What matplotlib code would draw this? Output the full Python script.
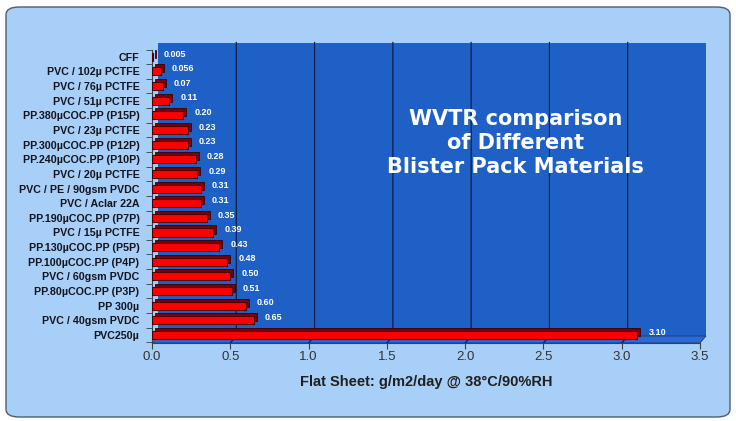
import numpy as np
import matplotlib.pyplot as plt
from matplotlib.patches import Rectangle, Polygon, FancyBboxPatch
from matplotlib.transforms import ScaledTranslation

plt.rcParams['font.family'] = ['Liberation Sans', 'DejaVu Sans']

materials = ['CFF', 'PVC / 102µ PCTFE', 'PVC / 76µ PCTFE', 'PVC / 51µ PCTFE',
             'PP.380µCOC.PP (P15P)', 'PVC / 23µ PCTFE', 'PP.300µCOC.PP (P12P)',
             'PP.240µCOC.PP (P10P)', 'PVC / 20µ PCTFE', 'PVC / PE / 90gsm PVDC',
             'PVC / Aclar 22A', 'PP.190µCOC.PP (P7P)', 'PVC / 15µ PCTFE',
             'PP.130µCOC.PP (P5P)', 'PP.100µCOC.PP (P4P)', 'PVC / 60gsm PVDC',
             'PP.80µCOC.PP (P3P)', 'PP 300µ', 'PVC / 40gsm PVDC', 'PVC250µ']
wvtr = [0.005, 0.056, 0.07, 0.11, 0.20, 0.23, 0.23, 0.28, 0.29, 0.31,
        0.31, 0.35, 0.39, 0.43, 0.48, 0.50, 0.51, 0.60, 0.65, 3.10]
value_text = ['0.005', '0.056', '0.07', '0.11', '0.20', '0.23', '0.23', '0.28',
              '0.29', '0.31', '0.31', '0.35', '0.39', '0.43', '0.48', '0.50',
              '0.51', '0.60', '0.65', '3.10']
xticks = np.arange(0, 3.51, 0.5)

# bottom bar first
materials = materials[::-1]
wvtr = wvtr[::-1]
value_text = value_text[::-1]
pos = np.arange(len(materials))

W, H, DPI = 736, 421, 100
fig = plt.figure(figsize=(W / DPI, H / DPI), dpi=DPI)
fig.patch.set_facecolor('white')

# rounded light-blue panel
panel = FancyBboxPatch((6 / W, 4 / H), 724 / W, 410 / H,
                       boxstyle='round,pad=0,rounding_size=0.018',
                       transform=fig.transFigure, facecolor='#a7cff7',
                       edgecolor='#4d5d70', linewidth=1.0, zorder=-10)
fig.patches.append(panel)

ax_l, ax_r, ax_b, ax_t = 152, 700, 343, 49.5
ax = fig.add_axes([ax_l / W, (H - ax_b) / H, (ax_r - ax_l) / W, (ax_b - ax_t) / H])
ax.set_zorder(1)
ax.set_facecolor('none')
ax.set_xlim(0, 3.5)
ax.set_ylim(-0.55, 19.25)

# 3D back wall and floor
dx = 6 / (ax_r - ax_l)
dy = 7 / (ax_b - ax_t)
ax.add_patch(Rectangle((dx, dy), 1, 1, transform=ax.transAxes,
                       facecolor='#1f60c6', edgecolor='none', clip_on=False, zorder=0))
ax.add_patch(Polygon([(0, 0), (1, 0), (1 + dx, dy), (dx, dy)], closed=True,
                     transform=ax.transAxes, facecolor='#2a6ad2',
                     edgecolor='#1a3a80', linewidth=0.6, clip_on=False, zorder=0.5))
for g in xticks[1:-1]:
    xa = g / 3.5
    ax.plot([xa, xa + dx, xa + dx], [0, dy, 1 + dy], transform=ax.transAxes,
            color='#0f1f4a', linewidth=0.9, clip_on=False, zorder=0.6)

# bars with a dark offset copy for depth
shift = ScaledTranslation(3 / DPI, 3 / DPI, fig.dpi_scale_trans)
ax.barh(pos, wvtr, height=0.55, color='#7a0000', edgecolor='#3a0000',
        linewidth=0.6, transform=ax.transData + shift, zorder=2)
ax.barh(pos, wvtr, height=0.55, color='#ff0000', edgecolor='#4a0000',
        linewidth=0.8, zorder=3)

for p, v, t in zip(pos, wvtr, value_text):
    ax.annotate(t, (v, p), xytext=(8, 2), textcoords='offset points',
                ha='left', va='center', color='white', fontsize=6.5,
                fontweight='bold', zorder=4)

ax.text(0.663, 0.68, 'WVTR comparison\nof Different\nBlister Pack Materials',
        transform=ax.transAxes, ha='center', va='center', color='white',
        fontsize=15, fontweight='bold', linespacing=1.25,
        family=['DejaVu Sans'], zorder=4)

ax.set_yticks(pos)
ax.set_yticklabels(materials, fontsize=7.7, fontweight='bold', color='#14141e')
ax.set_yticks(np.arange(-0.5, 19.6, 1), minor=True)
ax.tick_params(axis='y', which='major', length=0, pad=9)
ax.tick_params(axis='y', which='minor', length=4, direction='out', color='#404040')
ax.set_xticks(xticks)
ax.set_xticklabels([f'{t:.1f}' for t in xticks], fontsize=9.5, color='#333333')
ax.tick_params(axis='x', length=4, color='#404040', pad=1.5)
ax.set_xlabel('Flat Sheet: g/m2/day @ 38°C/90%RH', fontsize=10.5,
              fontweight='bold', color='#202020', labelpad=9)

for side in ['top', 'right']:
    ax.spines[side].set_visible(False)
for side in ['left', 'bottom']:
    ax.spines[side].set_color('#404040')
    ax.spines[side].set_linewidth(0.8)

fig.savefig('out.png', dpi=DPI)
